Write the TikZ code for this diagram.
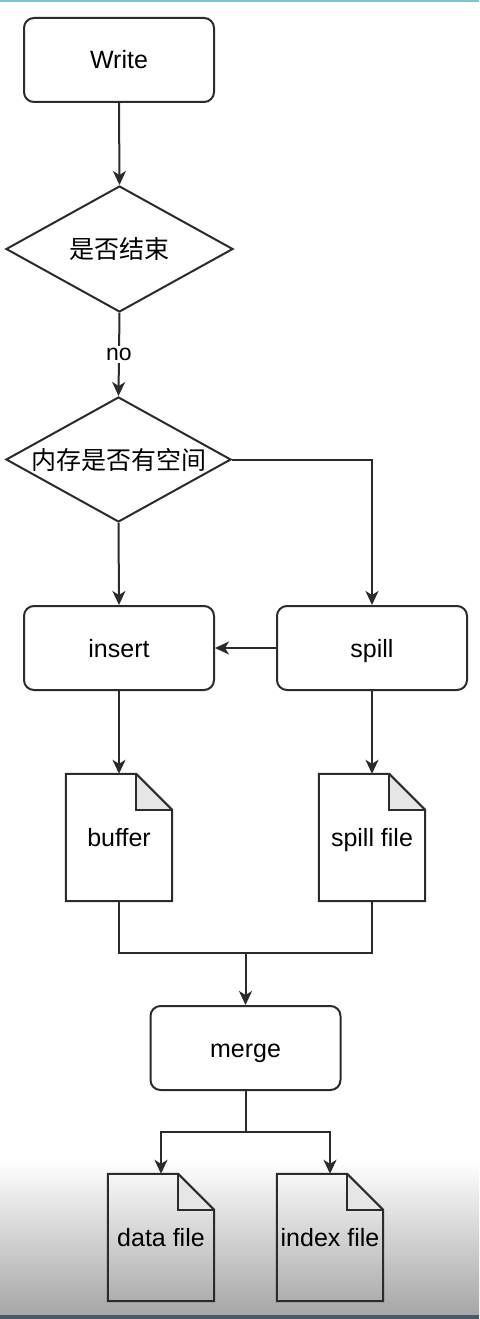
\documentclass[tikz,border=0pt]{standalone}
\usepackage{fontspec}
\setmainfont{Liberation Sans}
\newfontfamily\cjk{Noto Sans CJK SC}
\usetikzlibrary{shapes.geometric,arrows.meta}
\definecolor{ln}{HTML}{2B2B2B}
\definecolor{foldc}{HTML}{E6E6E6}
\definecolor{topband}{HTML}{7CC6CF}
\definecolor{botband}{HTML}{4A5966}
\definecolor{shadeg}{HTML}{A6A6A6}
\tikzset{
  lbl/.style={font=\fontsize{25}{29}\selectfont, text height=18pt, text depth=0pt},
  box/.style={lbl, draw=ln, line width=2pt, rounded corners=10pt, minimum width=190pt, minimum height=84pt, inner sep=0pt},
  dia/.style={draw=ln, line width=2pt, diamond, inner sep=0pt, shape aspect=1.8, minimum width=227pt, minimum height=126pt, font=\cjk\fontsize{25}{29}\selectfont},
  docnode/.style={lbl, minimum width=106pt, minimum height=127pt, inner sep=0pt},
  arr/.style={draw=ln, line width=2pt, -{Stealth[length=14pt,width=13pt,inset=4pt]}},
  conn/.style={draw=ln, line width=2pt},
}
\newcommand\docshape[1]{%
  \fill[foldc] ([xshift=-36pt]#1.north east) -- ([xshift=-36pt,yshift=-36pt]#1.north east) -- ([yshift=-36pt]#1.north east) -- cycle;
  \draw[ln, line width=2pt, line join=miter] (#1.south west) -- (#1.north west) -- ([xshift=-36pt]#1.north east) -- ([yshift=-36pt]#1.north east) -- (#1.south east) -- cycle;
  \draw[ln, line width=2pt] ([xshift=-36pt]#1.north east) -- ([xshift=-36pt,yshift=-36pt]#1.north east) -- ([yshift=-36pt]#1.north east);
}
\begin{document}
\begin{tikzpicture}[x=1pt,y=-1pt]
\useasboundingbox (0,0) rectangle (479,1319);
\fill[white] (0,0) rectangle (479,1319);
\shade[top color=white, bottom color=shadeg] (0,1160) rectangle (479,1315);
\fill[botband] (0,1315) rectangle (479,1319);
\fill[topband] (0,0) rectangle (479,2.5);

\node[box] (write) at (119,60) {Write};
\node[dia] (d1) at (119.5,249) {是否结束};
\node[dia, minimum width=225pt, minimum height=125pt] (d2) at (118.5,459.5) {内存是否有空间};
\node[box] (insert) at (119,648) {insert};
\node[box] (spill) at (372,648) {spill};
\node[docnode] (buffer) at (119,837.5) {buffer};
\node[docnode] (spillfile) at (372,837.5) {spill file};
\node[box] (merge) at (245.5,1048) {merge};
\node[docnode] (data) at (161,1237.5) {data file};
\node[docnode] (index) at (330,1237.5) {index file};
\docshape{buffer}
\docshape{spillfile}
\docshape{data}
\docshape{index}

\coordinate (j1) at (245.5,953);
\coordinate (j2) at (245.5,1132);

\draw[arr] (write.south) -- (d1.north);
\draw[arr] (d1.south) -- node[fill=white, inner sep=2pt, font=\fontsize{23}{26}\selectfont] {no} (d2.north);
\draw[arr] (d2.east) -| (spill.north);
\draw[arr] (d2.south) -- (insert.north);
\draw[arr] (spill.west) -- (insert.east);
\draw[arr] (insert.south) -- (buffer.north);
\draw[arr] (spill.south) -- (spillfile.north);
\draw[conn] (buffer.south) |- (j1) -| (spillfile.south);
\draw[arr] (j1) -- (merge.north);
\draw[conn] (merge.south) -- (j2);
\draw[arr] (j2) -| (data.north);
\draw[arr] (j2) -| (index.north);
\end{tikzpicture}
\end{document}
